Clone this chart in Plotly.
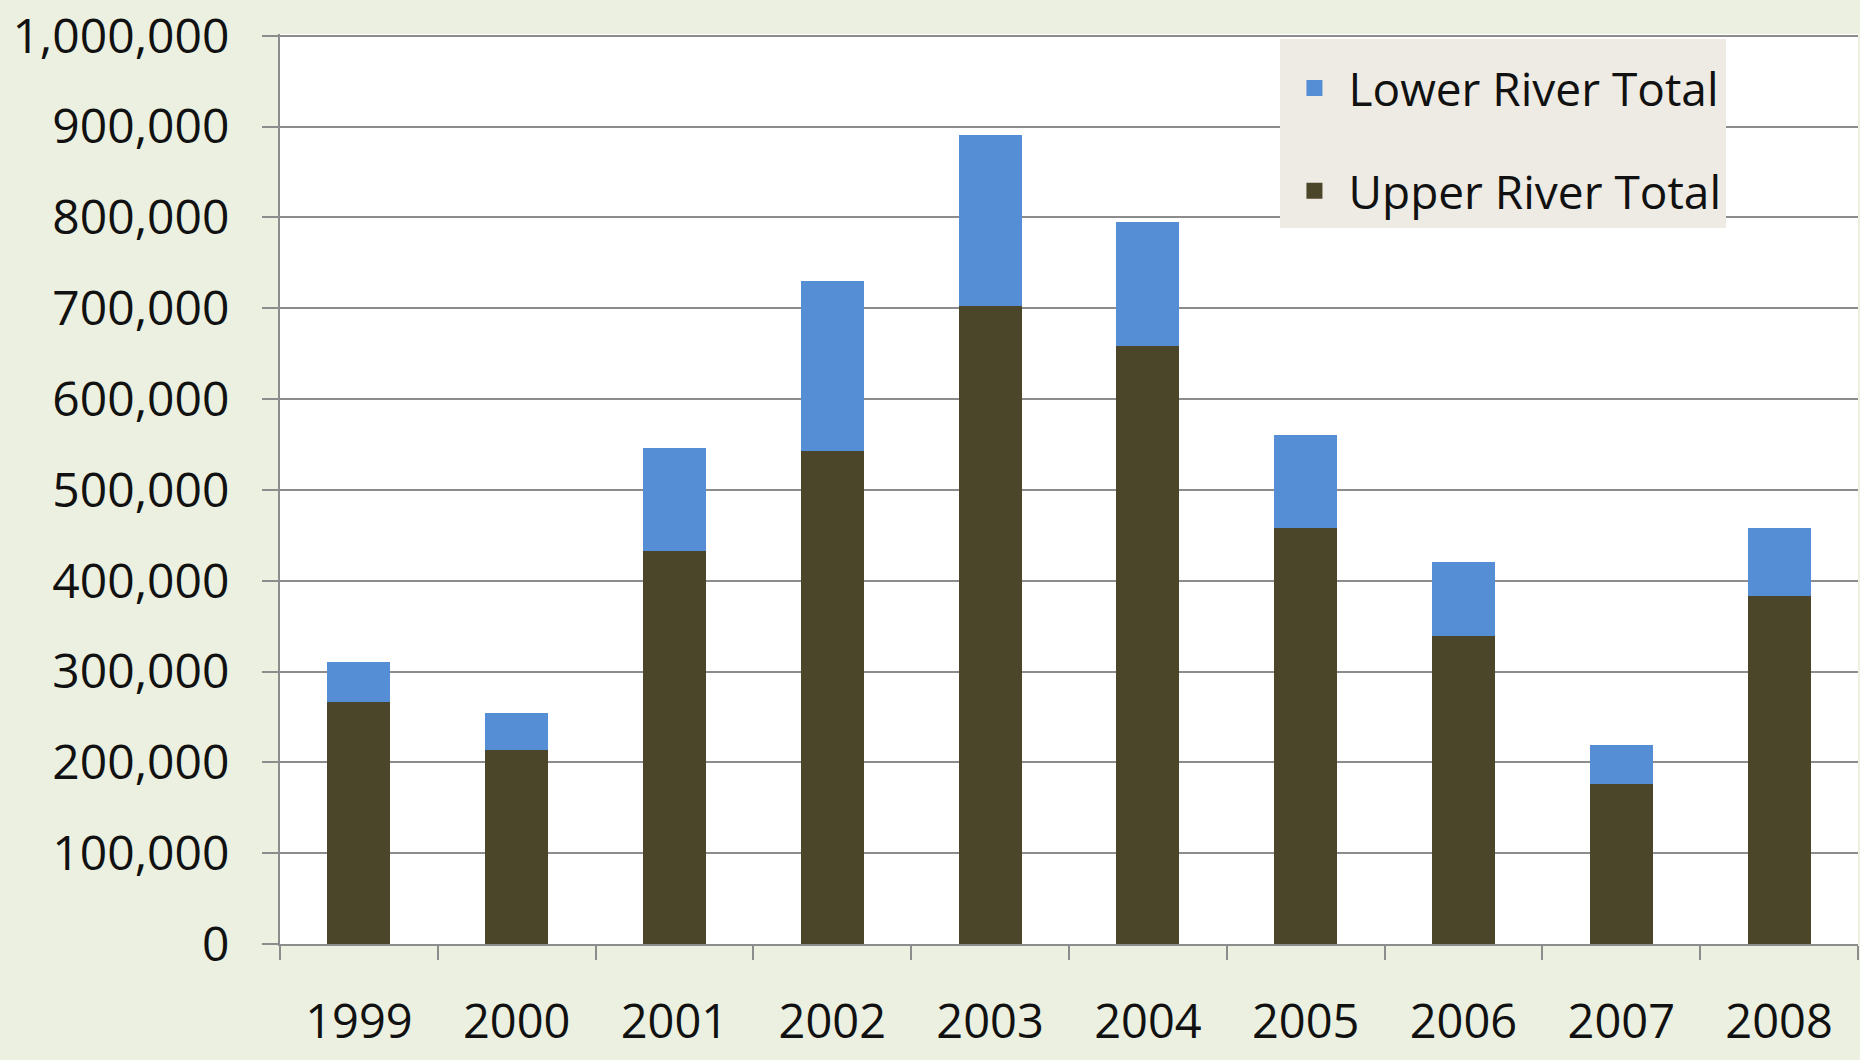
import plotly.graph_objects as go

years = ["1999", "2000", "2001", "2002", "2003", "2004", "2005", "2006", "2007", "2008"]
upper_river = [267000, 214000, 433000, 543000, 703000, 659000, 458000, 339000, 176000, 383000]
lower_river = [44000, 40000, 113000, 187000, 188000, 136000, 102000, 82000, 43000, 75000]
y_ticks = [0, 100000, 200000, 300000, 400000, 500000, 600000, 700000, 800000, 900000, 1000000]
y_tick_labels = ["0", "100,000", "200,000", "300,000", "400,000", "500,000",
                 "600,000", "700,000", "800,000", "900,000", "1,000,000"]

UPPER_COLOR = "#4B4529"
LOWER_COLOR = "#558ED5"

fig = go.Figure()
fig.add_trace(go.Bar(x=years, y=upper_river, name="Upper River Total",
                     marker=dict(color=UPPER_COLOR, line=dict(width=0)),
                     showlegend=False))
fig.add_trace(go.Bar(x=years, y=lower_river, name="Lower River Total",
                     marker=dict(color=LOWER_COLOR, line=dict(width=0)),
                     showlegend=False))
# legend entries (square swatches)
fig.add_trace(go.Scatter(x=[None], y=[None], mode="markers", name="Lower River Total",
                         marker=dict(symbol="square", size=16, color=LOWER_COLOR),
                         legendrank=1, legendgroup="l"))
fig.add_trace(go.Scatter(x=[None], y=[None], mode="markers", name="Upper River Total",
                         marker=dict(symbol="square", size=16, color=UPPER_COLOR),
                         legendrank=2, legendgroup="u"))

fig.update_layout(
    barmode="stack",
    bargap=0.6,
    width=1860, height=1060,
    margin=dict(l=280, r=2, t=34, b=116),
    paper_bgcolor="#EBF0E0",
    plot_bgcolor="#FFFFFF",
    font=dict(family="Open Sans", size=48, color="#111111"),
    legend=dict(
        x=0.634, y=0.995, xanchor="left", yanchor="top",
        bgcolor="#EDEBE3", borderwidth=0,
        traceorder="grouped", tracegroupgap=40,
        itemwidth=58,
        title=dict(text="&nbsp;", font=dict(size=10)),
        font=dict(family="Open Sans", size=46, color="#111111"),
    ),
    xaxis=dict(
        showline=True, linecolor="#8C8C8C", linewidth=2,
        ticks="outside", ticklen=14, tickcolor="#8C8C8C", tickwidth=2,
        tickson="boundaries", showgrid=False,
        tickfont=dict(size=47),
        ticklabelstandoff=36, automargin=False,
    ),
    yaxis=dict(
        range=[0, 1002000],
        tickvals=y_ticks, ticktext=y_tick_labels,
        showline=True, linecolor="#8C8C8C", linewidth=2,
        ticks="outside", ticklen=16, tickcolor="#8C8C8C", tickwidth=2,
        showgrid=True, gridcolor="#8C8C8C", gridwidth=2,
        ticklabelstandoff=23, ticklabeloverflow="allow", automargin=False,
        zeroline=False,
    ),
)

fig.write_html(
    "out.html",
    config={"displayModeBar": False},
    post_script="document.body.style.margin='0';document.body.style.background='#EBF0E0';",
)
